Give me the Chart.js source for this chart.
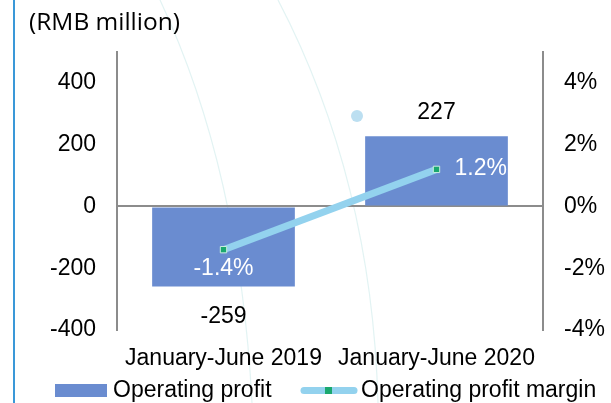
<!DOCTYPE html>
<html>
<head>
  <meta charset="UTF-8">
  <title>Operating profit</title>
  <script src="https://cdn.jsdelivr.net/npm/chart.js"></script>
  <style>
    html, body { margin: 0; padding: 0; background: #fff; }
    #wrap { position: relative; width: 611px; height: 403px; }
  </style>
</head>
<body>
  <div id="wrap">
    <canvas id="profitChart" width="611" height="403"></canvas>
  </div>

  <script>
    const periods = ['January-June 2019', 'January-June 2020'];
    const operatingProfit = [-259, 227];
    const profitMargin = [-1.4, 1.2];
    const leftTicks = [-400, -200, 0, 200, 400];
    const rightTicks = [-4, -2, 0, 2, 4];

    const barColor = '#6a8cd0';
    const lineColor = '#93d2ee';
    const markerColor = '#1aa86e';
    const axisGray = '#8c8c8c';
    const fontFamily = '"Liberation Sans", Arial, sans-serif';
    const tickFont = { family: fontFamily, size: 23 };

    // faint background arcs, left border, title and legend
    const decor = {
      id: 'decor',
      beforeDraw(chart) {
        const c = chart.ctx;
        c.save();
        c.strokeStyle = 'rgba(214,238,238,0.7)';
        c.lineWidth = 1.2;
        c.beginPath();
        c.moveTo(160, 0);
        c.quadraticCurveTo(240, 170, 252, 403);
        c.stroke();
        c.beginPath();
        c.moveTo(278, 0);
        c.quadraticCurveTo(372, 180, 378, 403);
        c.stroke();
        c.fillStyle = '#bcdff1';
        c.beginPath();
        c.arc(357, 116, 6, 0, Math.PI * 2);
        c.fill();
        c.fillStyle = '#3a98d8';
        c.fillRect(13, 0, 2, 403);
        c.restore();
      },
      afterDraw(chart) {
        const c = chart.ctx;
        c.save();
        c.fillStyle = '#000';
        c.textBaseline = 'middle';
        c.font = '24.5px "Open Sans", sans-serif';
        c.fillText('(RMB million)', 29, 23);

        c.font = '23px ' + fontFamily;
        c.fillStyle = barColor;
        c.fillRect(55, 384, 52, 13);
        c.fillStyle = '#000';
        c.fillText(chart.data.datasets[0].label, 113, 391);

        c.strokeStyle = lineColor;
        c.lineWidth = 7;
        c.lineCap = 'round';
        c.beginPath();
        c.moveTo(304, 390.5);
        c.lineTo(354, 390.5);
        c.stroke();
        c.fillStyle = markerColor;
        c.fillRect(325, 387, 7, 7);
        c.fillStyle = '#000';
        c.fillText(chart.data.datasets[1].label, 361, 391);
        c.restore();
      }
    };

    const valueLabels = {
      id: 'valueLabels',
      afterDatasetsDraw(chart) {
        const c = chart.ctx;
        c.save();
        c.font = '23px ' + fontFamily;
        c.textBaseline = 'middle';
        chart.getDatasetMeta(0).data.forEach((bar, i) => {
          const v = operatingProfit[i];
          c.fillStyle = '#000';
          c.textAlign = 'center';
          c.fillText(String(v), bar.x, v < 0 ? bar.y + 30 : bar.y - 24);
        });
        chart.getDatasetMeta(1).data.forEach((pt, i) => {
          const v = profitMargin[i];
          c.fillStyle = '#fff';
          if (i === 0) {
            c.textAlign = 'center';
            c.fillText(v.toFixed(1) + '%', pt.x, pt.y + 19);
          } else {
            c.textAlign = 'left';
            c.fillText(v.toFixed(1) + '%', pt.x + 18, pt.y - 1);
          }
        });
        c.restore();
      }
    };

    new Chart(document.getElementById('profitChart'), {
      data: {
        labels: periods,
        datasets: [
          {
            type: 'bar',
            label: 'Operating profit',
            data: operatingProfit,
            yAxisID: 'y',
            backgroundColor: barColor,
            categoryPercentage: 0.67,
            barPercentage: 1,
            order: 1
          },
          {
            type: 'line',
            label: 'Operating profit margin',
            data: profitMargin,
            yAxisID: 'y2',
            borderColor: lineColor,
            borderWidth: 7,
            pointStyle: 'rect',
            pointRadius: 4.5,
            pointBackgroundColor: markerColor,
            pointBorderColor: '#c9eede',
            pointBorderWidth: 1,
            order: 0
          }
        ]
      },
      options: {
        responsive: false,
        animation: false,
        layout: { padding: { top: 52, left: 0, right: 0, bottom: 30 } },
        plugins: { legend: { display: false }, tooltip: { enabled: false } },
        scales: {
          x: {
            grid: { display: false },
            border: { display: false },
            ticks: { color: '#000', font: tickFont, padding: 7, maxRotation: 0 },
            afterFit(scale) { scale.height = 43; }
          },
          y: {
            position: 'left',
            min: -400,
            max: 500,
            afterBuildTicks(scale) { scale.ticks = leftTicks.map(v => ({ value: v })); },
            ticks: { color: '#000', font: tickFont, padding: 21 },
            grid: {
              drawTicks: false,
              lineWidth: 2,
              color: ctx => (ctx.tick && ctx.tick.value === 0 ? axisGray : 'rgba(0,0,0,0)')
            },
            border: { color: axisGray, width: 2 },
            afterFit(scale) { scale.width = 117; }
          },
          y2: {
            position: 'right',
            min: -4,
            max: 5,
            afterBuildTicks(scale) { scale.ticks = rightTicks.map(v => ({ value: v })); },
            ticks: { color: '#000', font: tickFont, padding: 21, callback: v => v + '%' },
            grid: { display: false, drawTicks: false },
            border: { color: axisGray, width: 2 },
            afterFit(scale) { scale.width = 68; }
          }
        }
      },
      plugins: [decor, valueLabels]
    });
  </script>
</body>
</html>
